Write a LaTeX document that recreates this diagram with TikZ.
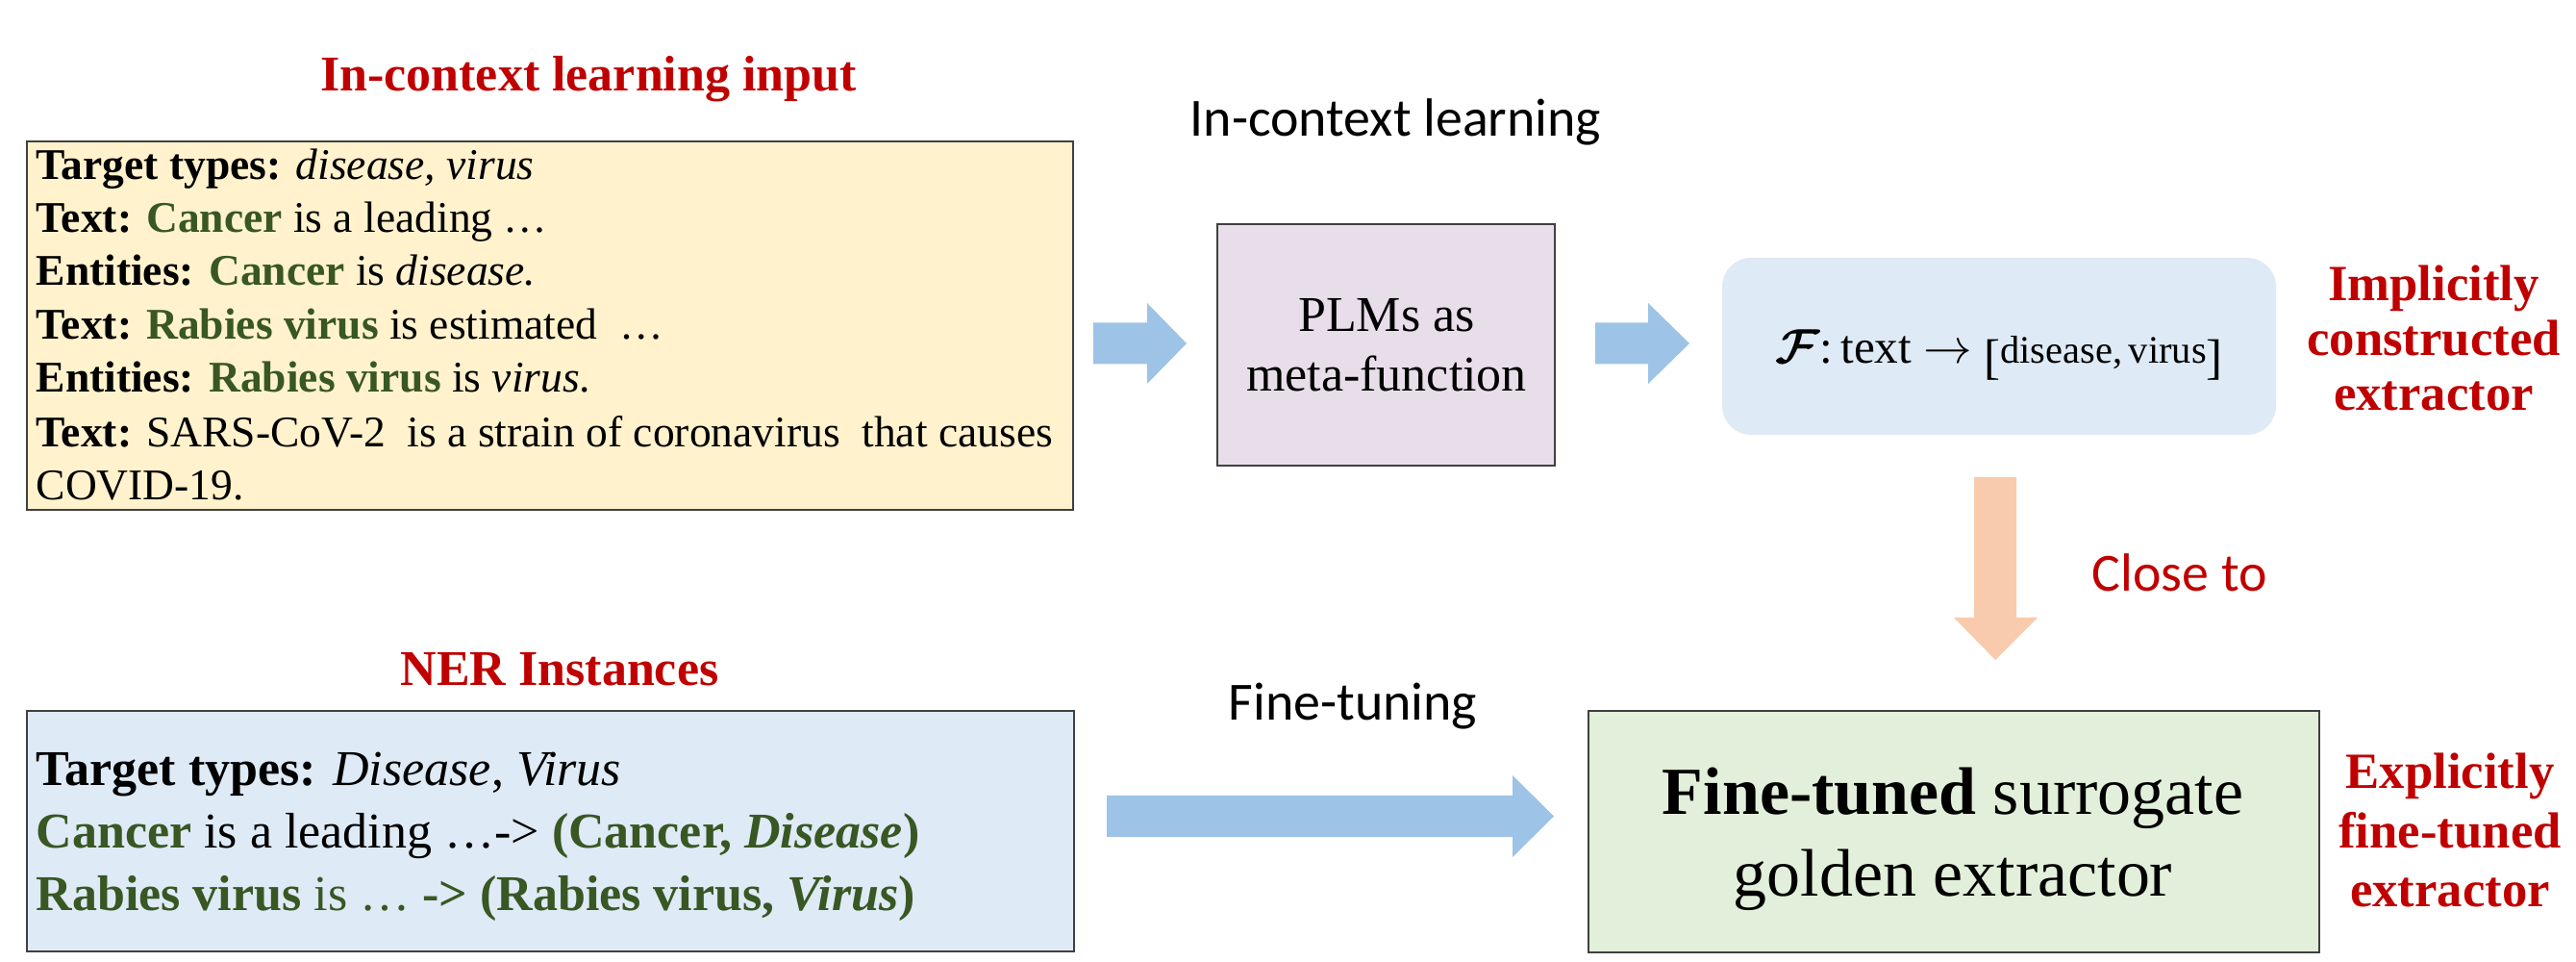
\documentclass[tikz,border=0pt]{standalone}
\usepackage{fontspec}
\setmainfont{Liberation Serif}
\newfontfamily\carlito{Carlito}
\usepackage{amsmath,bm}
\definecolor{myred}{HTML}{C00000}
\definecolor{mygreen}{HTML}{385723}
\definecolor{yellowfill}{HTML}{FFF2CC}
\definecolor{purplefill}{HTML}{E8DEEA}
\definecolor{bluefill}{HTML}{DEEAF6}
\definecolor{greenfill}{HTML}{E2EFDA}
\definecolor{arrowblue}{HTML}{9DC3E6}
\definecolor{arroworange}{HTML}{F8CBAD}
\definecolor{edgegray}{HTML}{404040}
\begin{document}
\begin{tikzpicture}[x=1cm,y=1cm,
  box/.style={draw=edgegray, line width=0.7pt, inner sep=0pt, outer sep=0pt, anchor=north west},
  ltxt/.style={inner sep=0pt, anchor=base west},
  ctxt/.style={inner sep=0pt, anchor=base},
  small/.style={font=\fontsize{12.95pt}{15.8pt}\selectfont},
  mid/.style={font=\fontsize{14.8pt}{17pt}\selectfont},
  redlbl/.style={inner sep=0pt, anchor=base, text=myred, font=\fontsize{15pt}{17pt}\selectfont\bfseries},
  sanslbl/.style={inner sep=0pt, anchor=base west, font=\fontsize{15.9pt}{18pt}\selectfont\carlito},
]
\useasboundingbox (0,0) rectangle (26.79,-10);

% ---------- boxes ----------
\node[box, fill=yellowfill, minimum width=10.88cm, minimum height=3.83cm] (yellow) at (0.28,-1.47) {};
\node[box, fill=purplefill, minimum width=3.51cm, minimum height=2.51cm] (plm) at (12.66,-2.33) {};
\node[draw=none, fill=bluefill, rounded corners=0.3cm, inner sep=0pt, outer sep=0pt, anchor=north west,
      minimum width=5.76cm, minimum height=1.84cm] (func) at (17.91,-2.68) {};
\node[box, fill=bluefill, minimum width=10.89cm, minimum height=2.50cm] (ner) at (0.28,-7.39) {};
\node[box, fill=greenfill, minimum width=7.60cm, minimum height=2.51cm] (ft) at (16.52,-7.39) {};

% ---------- titles ----------
\node[redlbl, font=\fontsize{14.8pt}{17pt}\selectfont\bfseries] (t1) at (6.12,-0.95) {In-context learning input};
\node[redlbl, font=\fontsize{14.8pt}{17pt}\selectfont\bfseries] (t2) at (5.82,-7.13) {NER Instances};
\node[sanslbl] (icl) at (12.37,-1.42) {In-context learning};
\node[sanslbl] (ftl) at (12.77,-7.49) {Fine-tuning};
\node[sanslbl, text=myred] (close) at (21.75,-6.15) {Close to};

% ---------- yellow box text ----------
\node[ltxt, small] (y1) at (0.37,-1.87) {\textbf{Target types:} \textit{disease, virus}};
\node[ltxt, small] (y2) at (0.37,-2.42) {\textbf{Text:} \textcolor{mygreen}{\textbf{Cancer}} is a leading …};
\node[ltxt, small] (y3) at (0.37,-2.97) {\textbf{Entities:} \textcolor{mygreen}{\textbf{Cancer}} is \textit{disease.}};
\node[ltxt, small] (y4) at (0.37,-3.53) {\textbf{Text:} \textcolor{mygreen}{\textbf{Rabies virus}} is estimated\ \ …};
\node[ltxt, small] (y5) at (0.37,-4.08) {\textbf{Entities:} \textcolor{mygreen}{\textbf{Rabies virus}} is \textit{virus}.};
\node[ltxt, small] (y6) at (0.37,-4.65) {\textbf{Text:} SARS-CoV-2\ \ is a strain of coronavirus\ \ that causes};
\node[ltxt, small] (y7) at (0.37,-5.20) {COVID-19.};

% ---------- PLM box ----------
\node[ctxt, mid] (p1) at (14.42,-3.45) {PLMs as};
\node[ctxt, mid] (p2) at (14.42,-4.07) {meta-function};

% ---------- function ----------
\node[ctxt, font=\fontsize{14pt}{15pt}\selectfont] (fx) at (20.79,-3.78)
  {$\bm{\mathcal{F}}$:\,text $\rightarrow$ \raisebox{-3pt}{\fontsize{14.5pt}{15pt}\selectfont[}{\fontsize{11.5pt}{12pt}\selectfont disease,\,virus}\raisebox{-3pt}{\fontsize{14.5pt}{15pt}\selectfont]}};

% ---------- right labels ----------
\node[redlbl] (im1) at (25.31,-3.13) {Implicitly};
\node[redlbl] (im2) at (25.31,-3.70) {constructed};
\node[redlbl] (im3) at (25.31,-4.27) {extractor};
\node[redlbl] (ex1) at (25.48,-8.20) {Explicitly};
\node[redlbl] (ex2) at (25.48,-8.82) {fine-tuned};
\node[redlbl] (ex3) at (25.48,-9.43) {extractor};

% ---------- NER box text ----------
\node[ltxt, mid] (n1) at (0.37,-8.17) {\textbf{Target types:} \textit{Disease}, \textit{Virus}};
\node[ltxt, mid] (n2) at (0.37,-8.82) {\textcolor{mygreen}{\textbf{Cancer}} is a leading …-> \textcolor{mygreen}{\textbf{(Cancer, \textit{Disease})}}};
\node[ltxt, mid] (n3) at (0.37,-9.47) {\color{mygreen}\textbf{Rabies virus} is … \textbf{-> (Rabies virus, \textit{Virus})}};

% ---------- fine-tuned box text ----------
\node[ctxt, font=\fontsize{19.9pt}{22pt}\selectfont] (f1) at (20.31,-8.47) {\textbf{Fine-tuned} surrogate};
\node[ctxt, font=\fontsize{19.9pt}{22pt}\selectfont] (f2) at (20.31,-9.32) {golden extractor};

% ---------- block arrows ----------
\fill[arrowblue] (11.37,-3.355) -- (11.93,-3.355) -- (11.93,-3.15) -- (12.34,-3.57) -- (11.93,-3.99) -- (11.93,-3.785) -- (11.37,-3.785) -- cycle;
\fill[arrowblue] (16.59,-3.355) -- (17.14,-3.355) -- (17.14,-3.15) -- (17.57,-3.57) -- (17.14,-3.99) -- (17.14,-3.785) -- (16.59,-3.785) -- cycle;
\fill[arrowblue] (11.51,-8.27) -- (15.73,-8.27) -- (15.73,-8.06) -- (16.16,-8.485) -- (15.73,-8.91) -- (15.73,-8.70) -- (11.51,-8.70) -- cycle;
\fill[arroworange] (20.53,-4.96) -- (20.97,-4.96) -- (20.97,-6.42) -- (21.19,-6.42) -- (20.75,-6.86) -- (20.32,-6.42) -- (20.53,-6.42) -- cycle;
\end{tikzpicture}
\end{document}
